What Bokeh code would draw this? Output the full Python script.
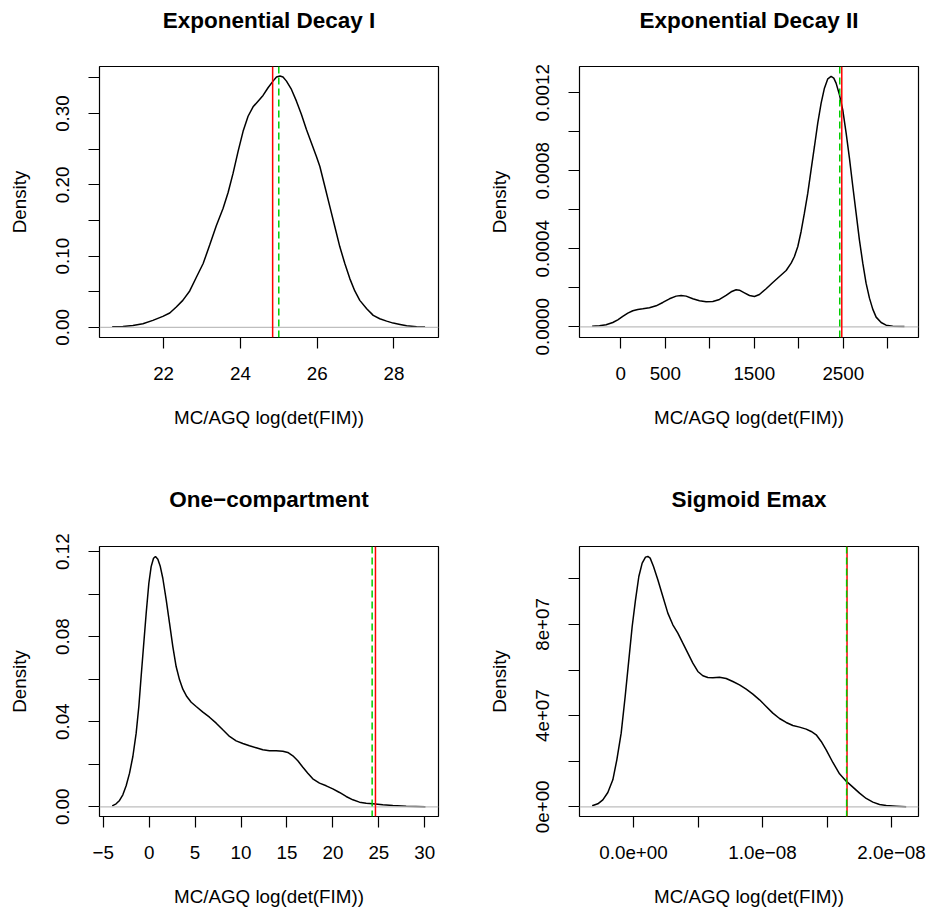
from bokeh.plotting import figure
from bokeh.layouts import column, row
from bokeh.models import FixedTicker, Span, Range1d, Title
from bokeh.embed import file_html
from bokeh.resources import INLINE

# ---------------- data ----------------
titles = ["Exponential Decay I", "Exponential Decay II", "One\u2212compartment", "Sigmoid Emax"]
x_label = "MC/AGQ log(det(FIM))"
y_label = "Density"

# Exponential Decay I
ed1_x = [20.66, 20.94, 21.20, 21.46, 21.72, 21.98, 22.16, 22.33, 22.50, 22.68, 22.85, 23.03, 23.20,
         23.37, 23.55, 23.68, 23.81, 23.94, 24.07, 24.20, 24.33, 24.46, 24.59, 24.72, 24.85, 24.94,
         25.03, 25.11, 25.20, 25.33, 25.46, 25.59, 25.72, 25.85, 25.98, 26.07, 26.20, 26.33, 26.46,
         26.59, 26.72, 26.85, 26.98, 27.11, 27.29, 27.46, 27.63, 27.81, 27.98, 28.16, 28.33, 28.59,
         28.81]
ed1_y = [0.0009, 0.0014, 0.0028, 0.0052, 0.0099, 0.0155, 0.0202, 0.0286, 0.0380, 0.0512, 0.0700,
         0.0897, 0.1155, 0.1423, 0.1671, 0.1892, 0.2164, 0.2469, 0.2751, 0.2962, 0.3094, 0.3174,
         0.3254, 0.3362, 0.3455, 0.3512, 0.3526, 0.3512, 0.3455, 0.3338, 0.3174, 0.2986, 0.2775,
         0.2587, 0.2399, 0.2258, 0.1977, 0.1695, 0.1413, 0.1131, 0.0897, 0.0685, 0.0512, 0.0380,
         0.0263, 0.0169, 0.0122, 0.0089, 0.0061, 0.0042, 0.0023, 0.0009, 0.0005]
ed1_red, ed1_green = 24.84, 25.0

# Exponential Decay II
ed2_x = [-322, -240, -165, -90, -34, 22, 79, 135, 191, 247, 322, 397, 472, 547, 622, 678, 734, 809,
         884, 959, 1034, 1109, 1183, 1240, 1296, 1333, 1389, 1446, 1502, 1558, 1633, 1708, 1783,
         1858, 1914, 1951, 1989, 2026, 2063, 2101, 2138, 2176, 2213, 2251, 2288, 2326, 2363, 2393,
         2419, 2457, 2494, 2532, 2569, 2607, 2644, 2681, 2719, 2756, 2794, 2831, 2869, 2925, 2981,
         3056, 3187]
ed2_y = [3.4e-6, 5.1e-6, 1.03e-5, 2.22e-5, 3.59e-5, 5.30e-5, 7.01e-5, 8.21e-5, 8.89e-5, 9.23e-5,
         9.74e-5, 1.077e-4, 1.248e-4, 1.436e-4, 1.573e-4, 1.607e-4, 1.573e-4, 1.436e-4, 1.333e-4,
         1.282e-4, 1.299e-4, 1.402e-4, 1.607e-4, 1.795e-4, 1.897e-4, 1.880e-4, 1.744e-4, 1.607e-4,
         1.556e-4, 1.658e-4, 1.949e-4, 2.274e-4, 2.581e-4, 2.889e-4, 3.265e-4, 3.607e-4, 4.120e-4,
         4.889e-4, 5.829e-4, 6.855e-4, 8.051e-4, 9.248e-4, 1.0444e-3, 1.1470e-3, 1.2239e-3,
         1.2718e-3, 1.2838e-3, 1.2752e-3, 1.2496e-3, 1.1897e-3, 1.1128e-3, 9.932e-4, 8.650e-4,
         7.197e-4, 5.829e-4, 4.461e-4, 3.265e-4, 2.239e-4, 1.470e-4, 9.06e-5, 4.96e-5, 2.22e-5,
         8.5e-6, 3.4e-6, 1.7e-6]
ed2_red, ed2_green = 2483, 2460

# One-compartment
oc_x = [-4.02, -3.59, -3.22, -2.86, -2.50, -2.13, -1.77, -1.41, -1.12, -0.87, -0.61, -0.32, -0.03,
        0.22, 0.48, 0.69, 0.95, 1.20, 1.49, 1.86, 2.22, 2.58, 2.94, 3.31, 3.67, 4.10, 4.58, 5.12,
        5.85, 6.57, 7.30, 8.02, 8.75, 9.47, 10.20, 10.92, 11.65, 12.37, 13.10, 13.82, 14.55, 15.09,
        15.64, 16.18, 16.73, 17.27, 17.81, 18.54, 19.27, 19.99, 20.72, 21.44, 22.17, 22.89, 23.62,
        24.34, 25.43, 26.52, 27.97, 30.07]
oc_y = [0.00047, 0.00141, 0.00298, 0.00564, 0.00987, 0.01582, 0.02366, 0.03462, 0.04715, 0.06125,
        0.07535, 0.09102, 0.10512, 0.11295, 0.11687, 0.11765, 0.11640, 0.11327, 0.10747, 0.09729,
        0.08632, 0.07535, 0.06595, 0.05969, 0.05530, 0.05185, 0.04919, 0.04715, 0.04449, 0.04214,
        0.03932, 0.03619, 0.03306, 0.03102, 0.02977, 0.02867, 0.02773, 0.02679, 0.02632, 0.02632,
        0.02616, 0.02554, 0.02397, 0.02162, 0.01864, 0.01582, 0.01316, 0.01112, 0.00987, 0.00846,
        0.00674, 0.00486, 0.00329, 0.00219, 0.00172, 0.00141, 0.00094, 0.00063, 0.00031, 0.0]
oc_red, oc_green = 24.63, 24.27

# Sigmoid Emax
se_x = [-0.3204e-8, -0.2765e-8, -0.2377e-8, -0.1990e-8, -0.1602e-8, -0.1292e-8, -0.0956e-8,
        -0.0646e-8, -0.0362e-8, -0.0103e-8, 0.0155e-8, 0.0413e-8, 0.0672e-8, 0.0930e-8, 0.1111e-8,
        0.1292e-8, 0.1550e-8, 0.1886e-8, 0.2274e-8, 0.2661e-8, 0.3049e-8, 0.3437e-8, 0.3824e-8,
        0.4212e-8, 0.4599e-8, 0.4987e-8, 0.5375e-8, 0.5762e-8, 0.6150e-8, 0.6667e-8, 0.7183e-8,
        0.7700e-8, 0.8217e-8, 0.8734e-8, 0.9251e-8, 0.9767e-8, 1.0284e-8, 1.0801e-8, 1.1318e-8,
        1.1835e-8, 1.2351e-8, 1.2868e-8, 1.3385e-8, 1.3773e-8, 1.4160e-8, 1.4548e-8, 1.4935e-8,
        1.5452e-8, 1.5969e-8, 1.6486e-8, 1.7003e-8, 1.7519e-8, 1.8036e-8, 1.8553e-8, 1.9070e-8,
        1.9587e-8, 2.0362e-8, 2.1137e-8]
se_y = [4.4e5, 1.32e6, 3.07e6, 6.29e6, 1.184e7, 2.061e7, 3.231e7, 4.839e7, 6.447e7, 7.909e7,
        9.079e7, 1.0102e8, 1.0687e8, 1.0950e8, 1.0980e8, 1.0907e8, 1.0541e8, 9.956e7, 9.225e7,
        8.494e7, 7.983e7, 7.617e7, 7.178e7, 6.740e7, 6.301e7, 5.936e7, 5.746e7, 5.673e7, 5.658e7,
        5.687e7, 5.629e7, 5.497e7, 5.351e7, 5.161e7, 4.942e7, 4.693e7, 4.401e7, 4.108e7, 3.874e7,
        3.699e7, 3.567e7, 3.494e7, 3.406e7, 3.304e7, 3.158e7, 2.866e7, 2.500e7, 1.944e7, 1.447e7,
        1.126e7, 8.63e6, 5.99e6, 3.66e6, 2.05e6, 1.02e6, 5.8e5, 2.9e5, 0.0]
se_red, se_green = 1.655e-8, 1.652e-8

# ticks and tick labels
ed1_xticks = [22, 24, 26, 28]
ed1_xlabels = ["22", "24", "26", "28"]
ed1_yticks = [0.0, 0.05, 0.10, 0.15, 0.20, 0.25, 0.30, 0.35]
ed1_ylabels = ["0.00", "", "0.10", "", "0.20", "", "0.30", ""]

ed2_xticks = [0, 500, 1000, 1500, 2000, 2500, 3000]
ed2_xlabels = ["0", "500", "", "1500", "", "2500", ""]
ed2_yticks = [0.0, 0.0002, 0.0004, 0.0006, 0.0008, 0.0010, 0.0012]
ed2_ylabels = ["0.0000", "", "0.0004", "", "0.0008", "", "0.0012"]

oc_xticks = [-5, 0, 5, 10, 15, 20, 25, 30]
oc_xlabels = ["\u22125", "0", "5", "10", "15", "20", "25", "30"]
oc_yticks = [0.0, 0.02, 0.04, 0.06, 0.08, 0.10, 0.12]
oc_ylabels = ["0.00", "", "0.04", "", "0.08", "", "0.12"]

se_xticks = [0.0, 0.5e-8, 1.0e-8, 1.5e-8, 2.0e-8]
se_xlabels = ["0.0e+00", "", "1.0e\u221208", "", "2.0e\u221208"]
se_yticks = [0.0, 2e7, 4e7, 6e7, 8e7, 1e8]
se_ylabels = ["0e+00", "", "4e+07", "", "8e+07", ""]

FONT = "Liberation Sans"
LBL = "18.8px"


def style_axis(ax, ticks, labels, name, label_standoff, title_standoff):
    ax.ticker = FixedTicker(ticks=ticks, minor_ticks=[])
    ax.major_label_overrides = {t: s for t, s in zip(ticks, labels)}
    ax.axis_line_color = None
    ax.major_tick_out = 11
    ax.major_tick_in = 0
    ax.major_tick_line_color = "black"
    ax.major_tick_line_width = 1.2
    ax.minor_tick_line_color = None
    ax.major_label_text_font = FONT
    ax.major_label_text_font_size = LBL
    ax.major_label_text_color = "black"
    ax.major_label_standoff = label_standoff
    ax.axis_label = name
    ax.axis_label_text_font = FONT
    ax.axis_label_text_font_size = LBL
    ax.axis_label_text_font_style = "normal"
    ax.axis_label_text_color = "black"
    ax.axis_label_standoff = title_standoff


def panel(title, xs, ys, red, green, xr, yr, xt, xl, yt, yl, w, h, ml, mr, mt, mb, gap):
    p = figure(width=w, height=h, x_range=Range1d(*xr), y_range=Range1d(*yr),
               output_backend="svg", toolbar_location=None, title=None,
               min_border_left=ml, min_border_right=mr, min_border_top=mt, min_border_bottom=mb)
    # blank spacer between the frame and the title (keeps the title high above the box)
    spacer = Title(text=" ", align="center", standoff=gap, text_font=FONT,
                   text_font_size="10px", text_color="white")
    p.add_layout(spacer, "above")
    p.add_layout(Title(text=title, align="center", standoff=0,
                       text_font=FONT, text_font_size="22.5px", text_font_style="bold",
                       text_color="black"), "above")
    p.grid.visible = False
    p.outline_line_color = "black"
    p.outline_line_width = 1.2
    p.background_fill_color = "white"
    p.border_fill_color = "white"

    p.line(xs, ys, line_color="black", line_width=1.5)
    p.add_layout(Span(location=0, dimension="width", line_color="#BEBEBE", line_width=1.2))
    p.add_layout(Span(location=red, dimension="height", line_color="#FF0000", line_width=1.5))
    p.add_layout(Span(location=green, dimension="height", line_color="#00CD00", line_width=1.5,
                      line_dash="7 4"))

    style_axis(p.xaxis[0], xt, xl, x_label, 18, 24)
    style_axis(p.yaxis[0], yt, yl, y_label, 19, 24)
    p.yaxis[0].major_label_orientation = "vertical"
    return p


p1 = panel(titles[0], ed1_x, ed1_y, ed1_red, ed1_green, (20.33, 29.16), (-0.0141, 0.366),
           ed1_xticks, ed1_xlabels, ed1_yticks, ed1_ylabels, 464, 456, 99, 26, 66, 119, 21)
p2 = panel(titles[1], ed2_x, ed2_y, ed2_red, ed2_green, (-464, 3345), (-5.49e-5, 0.001335),
           ed2_xticks, ed2_xlabels, ed2_yticks, ed2_ylabels, 464, 456, 115, 10, 66, 119, 21)
p3 = panel(titles[2], oc_x, oc_y, oc_red, oc_green, (-5.40, 31.49), (-0.00456, 0.1224),
           oc_xticks, oc_xlabels, oc_yticks, oc_ylabels, 464, 457, 99, 26, 90, 97, 22)
p4 = panel(titles[3], se_x, se_y, se_red, se_green, (-0.4186e-8, 2.209e-8), (-4.25e6, 1.1417e8),
           se_xticks, se_xlabels, se_yticks, se_ylabels, 464, 457, 115, 10, 90, 97, 22)

layout = column(row(p1, p2), row(p3, p4))
open("out.html", "w").write(file_html(layout, INLINE))
